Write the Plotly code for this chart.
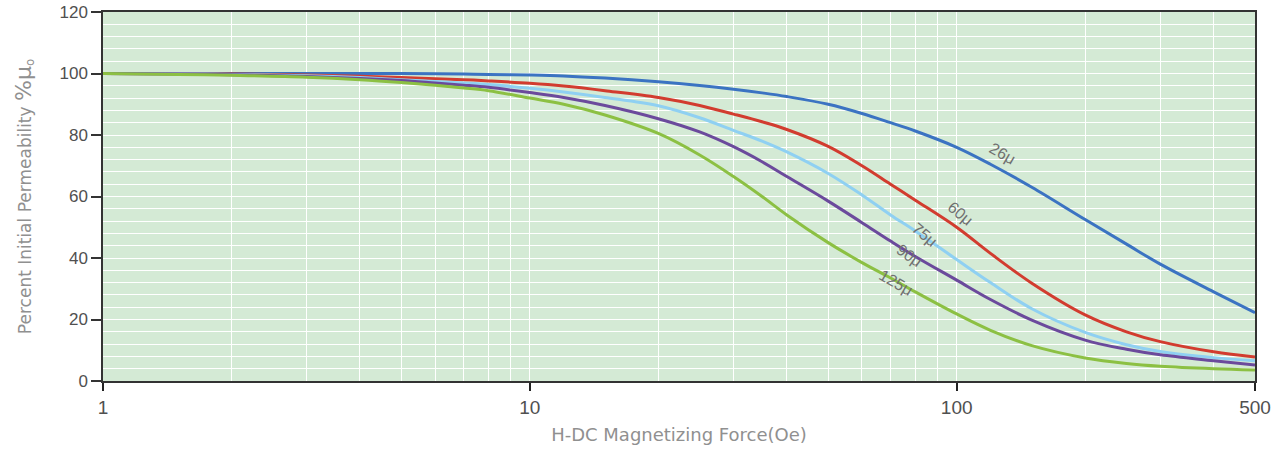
import math
import plotly.graph_objects as go

# H-DC magnetizing force (Oe)
H = [1, 1.5, 2, 3, 4, 5, 6, 7, 8, 10, 12, 15, 20, 25, 30, 35, 40, 50, 60, 70, 80,
     100, 120, 150, 200, 250, 300, 400, 500]

mu26 = [100, 100, 100, 100, 100, 100, 99.9, 99.8, 99.7, 99.5, 99.2, 98.5, 97.3, 96.1, 94.9,
        93.7, 92.5, 90, 87, 84, 81.3, 76, 70.5, 63, 52.5, 44.5, 38, 29, 22.2]
mu60 = [100, 99.9, 99.8, 99.5, 99.1, 98.7, 98.3, 98, 97.6, 96.8, 95.9, 94.4, 92.2, 89.6, 86.8,
        84.3, 81.8, 76.3, 70, 64, 58.8, 50, 41.5, 31.8, 21.5, 16, 12.8, 9.5, 7.8]
mu75 = [100, 99.9, 99.7, 99.3, 98.7, 98, 97.4, 96.9, 96.4, 95.2, 94, 92.2, 89.5, 85.6, 81.5,
        78, 74.5, 67.5, 60.5, 54, 48.8, 39.5, 32, 23.5, 15.8, 11.8, 9.6, 7.6, 6.6]
mu90 = [100, 99.8, 99.6, 99, 98.4, 97.7, 96.9, 96.2, 95.5, 93.8, 92.2, 89.6, 85.3, 81, 76.2,
        71.3, 66.5, 58.5, 51.5, 45.5, 40.5, 32.8, 26.5, 19.8, 13.3, 10.3, 8.5, 6.6, 5.2]
mu125 = [100, 99.7, 99.4, 98.8, 98, 97.1, 96.2, 95.3, 94.4, 92, 90, 86.5, 80.5, 73.5, 66.5,
         60, 54, 45, 38.5, 33.5, 29, 21.8, 16.5, 11.5, 7.5, 5.7, 4.8, 4.0, 3.6]

series_names = ["26μ", "60μ", "75μ", "90μ", "125μ"]
series_vals = [mu26, mu60, mu75, mu90, mu125]
colors = ["#3b73c2", "#d23c2f", "#8fd0f2", "#6b4a9c", "#8cc043"]

# curve label anchors (H, value, angle)
label_H = [128, 102, 84, 77.5, 72]
label_v = [74, 54.5, 47.5, 40.8, 32]
label_ang = [30, 40, 40, 35, 30]

x_ticks = [1, 10, 100, 500]
x_minor = [2, 3, 4, 5, 6, 7, 8, 9, 20, 30, 40, 50, 60, 70, 80, 90, 200, 300, 400]

fig = go.Figure()
for name, vals, c in zip(series_names, series_vals, colors):
    fig.add_trace(go.Scatter(x=H, y=vals, mode="lines", name=name,
                             line=dict(color=c, width=3, shape="spline", smoothing=1.0),
                             showlegend=False))

for name, hx, vy, ang in zip(series_names, label_H, label_v, label_ang):
    fig.add_annotation(x=math.log10(hx), y=vy, xref="x", yref="y", text=name, showarrow=False,
                       textangle=ang, font=dict(size=16, color="#707070",
                                                family="Liberation Sans, Arial, sans-serif"))

fig.update_layout(
    width=1277, height=449,
    margin=dict(l=103, r=22, t=12, b=68),
    paper_bgcolor="white",
    plot_bgcolor="#d4ead5",
    font=dict(family="Liberation Sans, Arial, sans-serif", color="#444444"),
)

fig.update_xaxes(
    type="log", range=[0, math.log10(500)], automargin=False,
    tickvals=x_ticks, ticktext=[str(v) for v in x_ticks],
    tickfont=dict(size=19, color="#505050"),
    ticks="outside", ticklen=8, tickwidth=2, tickcolor="#222222",
    showgrid=True, gridcolor="white", gridwidth=1.3,
    minor=dict(tickvals=x_minor, showgrid=True, gridcolor="white", gridwidth=1.3, ticks=""),
    showline=True, linecolor="#333333", linewidth=1.5, mirror=True,
    title=dict(text="H-DC Magnetizing Force(Oe)",
               font=dict(size=18, color="#909090", family="DejaVu Sans, sans-serif"), standoff=12),
    zeroline=False,
)
fig.update_yaxes(
    range=[0, 120], dtick=20, automargin=False,
    tickfont=dict(size=17, color="#505050"),
    ticks="outside", ticklen=10, tickwidth=2, tickcolor="#333333",
    showgrid=True, gridcolor="white", gridwidth=1.3,
    minor=dict(dtick=4, showgrid=True, gridcolor="white", gridwidth=1.3, ticks=""),
    showline=True, linecolor="#333333", linewidth=1.5, mirror=True,
    title=dict(text="Percent Initial Permeability <span style='font-size:22px'>%μ</span><sub>o</sub>",
               font=dict(size=17, color="#909090", family="DejaVu Sans, sans-serif"), standoff=24),
    zeroline=False,
)

fig.write_html("out.html")
